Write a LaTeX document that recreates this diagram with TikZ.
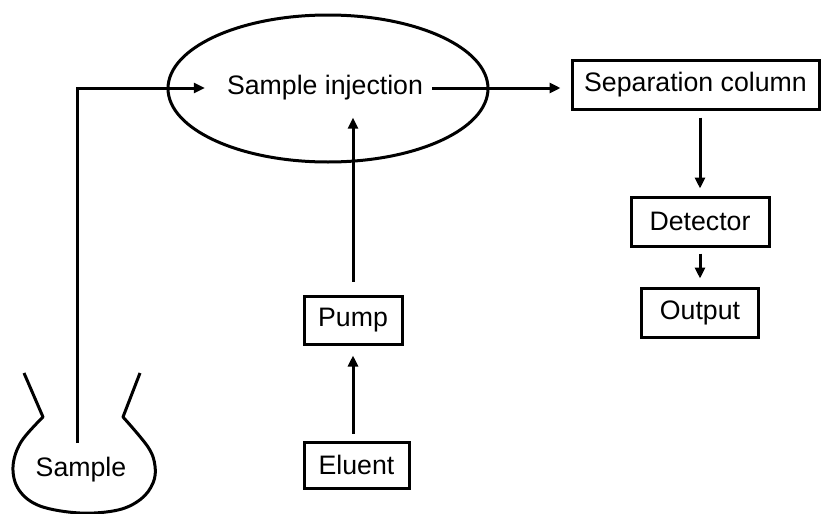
\documentclass[tikz,border=0pt]{standalone}
\usepackage{fontspec}
\setmainfont{Liberation Sans}
\usetikzlibrary{shapes.geometric,arrows.meta}
\begin{document}
\begin{tikzpicture}[x=1pt,y=-1pt,
  every node/.style={font=\fontsize{26.7pt}{30pt}\selectfont},
  lw/.style={line width=3pt},
  box/.style={draw,lw,rectangle,inner sep=0pt,anchor=center},
  arr/.style={lw,-{Triangle[length=11pt,width=10pt]}},
  txt/.style={inner sep=0pt}]
\useasboundingbox (0,0) rectangle (822,514);
% nodes
\node[draw,lw,ellipse,minimum width=320pt,minimum height=147pt,inner sep=0pt] (inj) at (328,88.5) {};
\node[txt] (injt) at (325,88) {Sample injection};
\node[box,minimum width=247pt,minimum height=49pt] (sep) at (695.5,84.5) {Separation column};
\node[box,minimum width=138pt,minimum height=49pt] (det) at (700,221.5) {Detector};
\node[box,minimum width=117pt,minimum height=49pt] (out) at (700,312.5) {Output};
\node[box,minimum width=98pt,minimum height=48pt] (pump) at (353,320) {Pump};
\node[box,minimum width=105pt,minimum height=46pt] (elu) at (356.5,465) {Eluent};
% flask
\draw[lw,line join=round] (24,373) -- (43,417) -- plot[smooth,tension=0.6] coordinates {(43,417) (21,442) (13,467) (19,490) (40,506) (80,513) (118,510) (141,499) (153,483) (155,466) (148,447) (123,417)} -- (140,373);
\node[txt] (samp) at (81,470) {Sample};
\coordinate (sin) at (77,443);
% connectors
\draw[arr,shorten >=22pt] (sin) |- (injt.west);
\draw[arr,shorten <=9pt,shorten >=10pt] (injt.east) -- (injt.east -| sep.west);
\draw[arr,shorten <=7pt,shorten >=7pt] (sep.south -| det.north) -- (det.north);
\draw[arr,shorten <=6pt,shorten >=8pt] (det.south) -- (out.north);
\draw[arr,shorten <=7pt,shorten >=10pt] (pump.south |- elu.north) -- (pump.south);
\draw[arr,shorten <=13pt,shorten >=17pt] (pump.north) -- (pump.north |- injt.south);
\end{tikzpicture}
\end{document}
